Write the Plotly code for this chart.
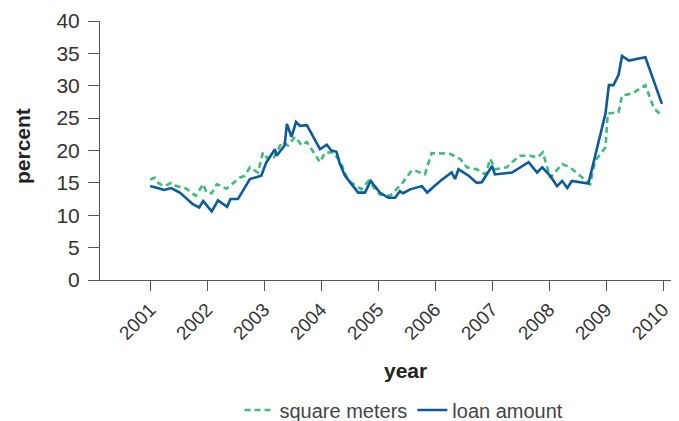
import plotly.graph_objects as go

# ---- data (decimal year, percent) ----
loan_x = [2001.00, 2001.25, 2001.37, 2001.52, 2001.75, 2001.86, 2001.93, 2002.08, 2002.19,
          2002.35, 2002.41, 2002.54, 2002.75, 2002.95, 2003.04, 2003.19, 2003.22, 2003.36,
          2003.40, 2003.48, 2003.56, 2003.63, 2003.75, 2003.98, 2004.10, 2004.18, 2004.27,
          2004.33, 2004.42, 2004.65, 2004.77, 2004.87, 2005.03, 2005.18, 2005.30, 2005.38,
          2005.44, 2005.56, 2005.77, 2005.86, 2006.09, 2006.29, 2006.35, 2006.41, 2006.59,
          2006.73, 2006.82, 2007.00, 2007.05, 2007.35, 2007.64, 2007.79, 2007.88, 2008.02,
          2008.14, 2008.23, 2008.32, 2008.40, 2008.69, 2008.90, 2008.99, 2009.05, 2009.13,
          2009.22, 2009.28, 2009.40, 2009.69, 2009.98]
loan_y = [14.5, 13.9, 14.2, 13.5, 11.7, 11.2, 12.2, 10.6, 12.3,
          11.3, 12.5, 12.5, 15.6, 16.1, 18.2, 20.2, 19.2, 20.8,
          24.1, 22.1, 24.4, 23.8, 23.9, 20.2, 20.9, 20.0, 19.8,
          17.9, 16.1, 13.5, 13.5, 15.3, 13.5, 12.7, 12.7, 13.7,
          13.4, 14.0, 14.5, 13.5, 15.3, 16.6, 15.6, 17.1, 16.1,
          15.0, 15.1, 17.6, 16.3, 16.6, 18.2, 16.6, 17.4, 16.1,
          14.5, 15.3, 14.2, 15.3, 14.9, 22.6, 25.7, 30.1, 30.1,
          31.7, 34.6, 33.9, 34.4, 27.2]

sqm_x = [2001.00, 2001.08, 2001.14, 2001.25, 2001.37, 2001.46, 2001.64, 2001.80, 2001.93,
         2001.99, 2002.08, 2002.17, 2002.34, 2002.57, 2002.66, 2002.75, 2002.89, 2002.98,
         2003.07, 2003.16, 2003.31, 2003.42, 2003.54, 2003.66, 2003.75, 2003.98, 2004.07,
         2004.21, 2004.33, 2004.48, 2004.71, 2004.83, 2005.03, 2005.21, 2005.41, 2005.59,
         2005.65, 2005.82, 2005.94, 2006.17, 2006.26, 2006.44, 2006.56, 2006.73, 2006.88,
         2006.97, 2007.05, 2007.26, 2007.35, 2007.49, 2007.67, 2007.79, 2007.89, 2008.02,
         2008.23, 2008.37, 2008.55, 2008.72, 2008.81, 2008.99, 2009.03, 2009.22, 2009.28,
         2009.46, 2009.69, 2009.84, 2009.98]
sqm_y = [15.5, 15.8, 15.0, 14.5, 15.0, 14.5, 14.1, 13.0, 14.8,
         13.5, 13.4, 14.8, 14.1, 15.8, 16.1, 17.4, 16.6, 19.7,
         18.7, 18.7, 21.3, 20.8, 22.1, 20.8, 21.3, 18.2, 19.7,
         19.7, 18.4, 15.3, 14.0, 15.3, 13.2, 13.0, 14.8, 16.9,
         16.9, 16.3, 19.6, 19.5, 19.5, 18.7, 17.4, 17.1, 16.3,
         18.7, 17.1, 17.4, 18.2, 19.2, 19.2, 18.9, 19.7, 15.8,
         17.9, 17.4, 16.1, 14.8, 18.4, 20.5, 25.7, 25.9, 28.5,
         28.8, 30.1, 26.5, 25.4]

year_ticks = [2001, 2002, 2003, 2004, 2005, 2006, 2007, 2008, 2009, 2010]
year_labels = [str(y) for y in year_ticks]
pct_ticks = [0, 5, 10, 15, 20, 25, 30, 35, 40]

FONT = "Liberation Sans, Arial, sans-serif"
GREEN = "#3dbd7b"
BLUE = "#0b5a9c"
AXIS = "#555555"

# the page body has an 8px margin, so the figure starts at (8, 8) in the window
OFF = 8
W, H = 679 - OFF, 421 - OFF
L, R, T, B = 100 - OFF, 0, 21 - OFF, 421 - 280
PW, PH = W - L - R, H - T - B


def px_to_paper(px, py):
    # px, py are window pixel positions
    return (px - OFF - L) / PW, (H - B - (py - OFF)) / PH


fig = go.Figure()
fig.add_trace(go.Scatter(x=sqm_x, y=sqm_y, mode="lines", name="square meters",
                         line=dict(color=GREEN, width=2.6, dash="6px,4px")))
fig.add_trace(go.Scatter(x=loan_x, y=loan_y, mode="lines", name="loan amount",
                         line=dict(color=BLUE, width=2.6)))

ytx, yty = px_to_paper(22, 146)
xtx, xty = px_to_paper(405, 370)
lgx, lgy = px_to_paper(404, 410)

fig.update_layout(
    width=W, height=H,
    margin=dict(l=L, r=R, t=T, b=B, autoexpand=False),
    plot_bgcolor="white", paper_bgcolor="white",
    font=dict(family=FONT, size=20, color="#333333"),
    showlegend=True,
    legend=dict(orientation="h", x=lgx, xanchor="center", y=lgy, yanchor="middle",
                font=dict(family=FONT, size=20, color="#444444"),
                itemwidth=30),
    xaxis=dict(range=[2000.12, 2010.28], tickmode="array", tickvals=year_ticks,
               ticktext=year_labels, tickangle=-45, ticks="outside", ticklen=10,
               tickcolor=AXIS, showline=True, linecolor=AXIS, linewidth=1,
               showgrid=False, zeroline=False, automargin=False,
               tickfont=dict(family=FONT, size=19, color="#333333")),
    yaxis=dict(range=[0, 40], tickmode="array", tickvals=pct_ticks, ticks="outside",
               ticklen=11, tickcolor=AXIS, showline=True, linecolor=AXIS,
               linewidth=1, showgrid=False, zeroline=False, automargin=False,
               ticklabelstandoff=4,
               tickfont=dict(family=FONT, size=21, color="#333333")),
    annotations=[
        dict(text="<b>percent</b>", x=ytx, y=yty, xref="paper", yref="paper",
             xanchor="center", yanchor="middle", showarrow=False, textangle=-90,
             font=dict(family=FONT, size=21, color="#222222")),
        dict(text="<b>year</b>", x=xtx, y=xty, xref="paper", yref="paper",
             xanchor="center", yanchor="middle", showarrow=False,
             font=dict(family=FONT, size=21, color="#222222")),
    ],
)

fig.write_html("out.html")
